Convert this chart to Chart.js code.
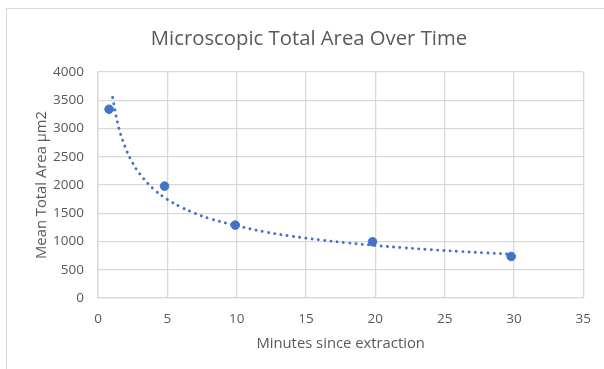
<!DOCTYPE html>
<html>
<head>
<meta charset="utf-8">
<script src="https://cdn.jsdelivr.net/npm/chart.js@4"></script>
<style>
  body { margin: 0; background: #fff; overflow: hidden; }
  #frame { position: absolute; left: 6px; top: 8px; width: 620px; height: 380px; border: 1px solid #d9d9d9; }
  #chart { position: absolute; left: 0; top: 0; }
</style>
</head>
<body>
<div id="frame"></div>
<canvas id="chart" width="604" height="369"></canvas>
<script>
// measured points
const minutes = [0.8, 4.8, 9.9, 19.8, 29.8];
const meanArea = [3340, 1980, 1290, 995, 735];

// dotted power trendline
const trendMinutes = [1.05, 1.5, 2, 2.5, 3, 4, 5, 6, 7, 8, 10, 12, 14, 16, 18, 20, 22, 24, 26, 28, 29.8];
const trendArea = [3550, 3010, 2645, 2390, 2200, 1930, 1745, 1607, 1499, 1410, 1280, 1172, 1093, 1029, 975, 929, 890, 855, 825, 798, 775];

const xTicks = [0, 5, 10, 15, 20, 25, 30, 35];
const yTicks = [0, 500, 1000, 1500, 2000, 2500, 3000, 3500, 4000];

const BLUE = '#4472C4';
const TEXT = '#595959';
const GRID = '#d9d9d9';
const FONT = "'Open Sans', sans-serif";

function toXY(xs, ys){
    return xs.map((x, i) => ({x: x, y: ys[i]}));
}

const ctx = document.querySelector('#chart').getContext('2d');
new Chart(ctx, {
    type: 'scatter',
    data: {
        datasets: [{
            label: 'Trend',
            data: toXY(trendMinutes, trendArea),
            showLine: true,
            borderColor: BLUE,
            borderWidth: 2.9,
            borderDash: [0.1, 6.2],
            borderCapStyle: 'round',
            tension: 0.4,
            pointRadius: 0,
            order: 1
        }, {
            label: 'Mean Total Area',
            data: toXY(minutes, meanArea),
            backgroundColor: BLUE,
            borderColor: BLUE,
            pointRadius: 4.3,
            pointHoverRadius: 4.3,
            order: 2
        }]
    },
    options: {
        responsive: false,
        animation: false,
        layout: { padding: { left: 31, right: 17, top: 0, bottom: 0 } },
        plugins: {
            legend: { display: false },
            tooltip: { enabled: false },
            title: {
                display: true,
                text: 'Microscopic Total Area Over Time',
                color: TEXT,
                font: { family: FONT, size: 20.3, weight: 'normal' },
                padding: { top: 27, bottom: 20.6 }
            }
        },
        scales: {
            x: {
                type: 'linear',
                min: 0,
                max: 35,
                afterBuildTicks: scale => { scale.ticks = xTicks.map(v => ({value: v})); },
                afterFit: scale => { scale.height = 71; },
                grid: { color: GRID, lineWidth: 1.3, drawTicks: false },
                border: { color: GRID, width: 1.3 },
                ticks: {
                    color: TEXT,
                    padding: 13,
                    font: { family: FONT, size: 13.5 },
                    callback: v => String(v)
                },
                title: {
                    display: true,
                    text: 'Minutes since extraction',
                    color: TEXT,
                    font: { family: FONT, size: 14.8 },
                    padding: { top: 0, bottom: 16 }
                }
            },
            y: {
                type: 'linear',
                min: 0,
                max: 4000,
                afterBuildTicks: scale => { scale.ticks = yTicks.map(v => ({value: v})); },
                afterFit: scale => { scale.width = 67; },
                grid: { color: GRID, lineWidth: 1.3, drawTicks: false },
                border: { color: GRID, width: 1.3 },
                ticks: {
                    color: TEXT,
                    padding: 14,
                    font: { family: FONT, size: 13.5 },
                    callback: v => String(v)
                },
                title: {
                    display: true,
                    text: 'Mean Total Area µm2',
                    color: TEXT,
                    font: { family: FONT, size: 14.8 },
                    padding: { top: 1.5, bottom: 0 }
                }
            }
        }
    }
});
</script>
</body>
</html>
